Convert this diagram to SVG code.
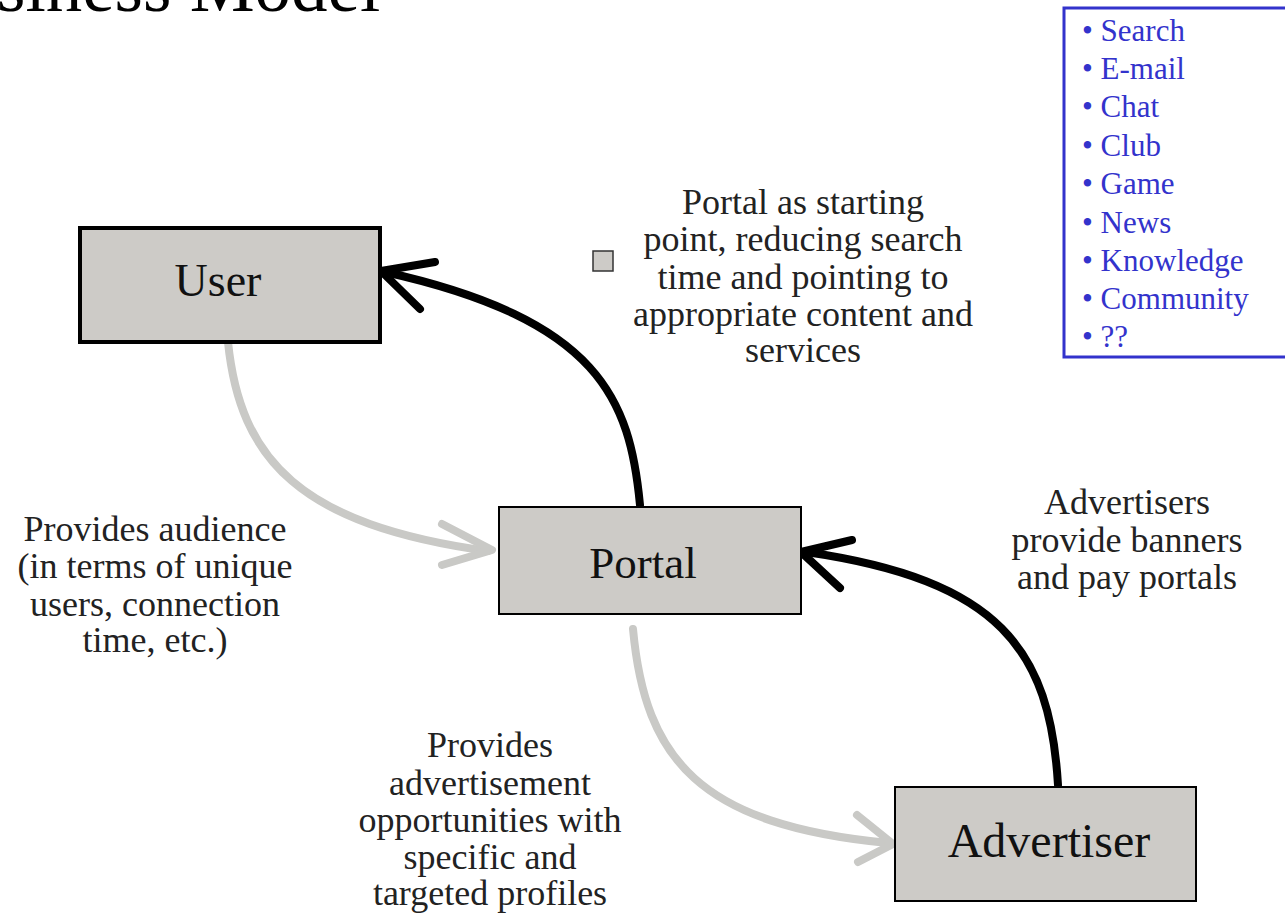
<svg xmlns="http://www.w3.org/2000/svg" width="1285" height="914" viewBox="0 0 1285 914">
<style>
.node{fill:#cdcbc7;stroke:#000}
.lbl{font-family:"Liberation Serif",serif;fill:#111;text-anchor:middle}
.note{font-family:"Liberation Serif",serif;font-size:36px;fill:#222;text-anchor:middle}
.blk{fill:none;stroke:#000;stroke-width:8;stroke-linecap:round;stroke-linejoin:round}
.gry{fill:none;stroke:#c9c9c6;stroke-width:8;stroke-linecap:round;stroke-linejoin:round}
.blue{font-family:"Liberation Serif",serif;font-size:31px;fill:#3333cc}
</style>
<rect width="1285" height="914" fill="#fff"/>
<text x="-3" y="11" font-family="Liberation Serif,serif" font-size="73" fill="#000">siness Model</text>

<g id="connectors">
  <path class="blk" d="M640 505 C630 400,600 320,385 272"/>
  <path class="blk" d="M435 262 L381 271 L420 309"/>
  <path class="blk" d="M1058 785 C1050 650,1000 580,806 552"/>
  <path class="blk" d="M852 540 L801 552 L840 588"/>
  <path class="gry" d="M228 342 C240 460,300 525,488 551"/>
  <path class="gry" d="M442 524 L492 550 L442 565"/>
  <path class="gry" d="M633 629 C645 760,700 825,888 843"/>
  <path class="gry" d="M857 815 L893 844 L858 862"/>
</g>

<g id="user">
  <rect class="node" x="80" y="228" width="300" height="114" stroke-width="4"/>
  <text class="lbl" x="218" y="296" font-size="46">User</text>
</g>
<g id="portal">
  <rect class="node" x="499" y="507" width="302" height="107" stroke-width="2"/>
  <text class="lbl" x="643" y="578" font-size="45">Portal</text>
</g>
<g id="advertiser">
  <rect class="node" x="895" y="787" width="301" height="114" stroke-width="2"/>
  <text class="lbl" x="1049" y="857" font-size="48">Advertiser</text>
</g>

<g id="note-portal">
  <rect x="593" y="251" width="20" height="20" fill="#cdcbc7" stroke="#333" stroke-width="1.5"/>
  <text class="note" x="803" y="214">Portal as starting</text>
  <text class="note" x="803" y="251">point, reducing search</text>
  <text class="note" x="803" y="289">time and pointing to</text>
  <text class="note" x="803" y="326">appropriate content and</text>
  <text class="note" x="803" y="362">services</text>
</g>
<g id="note-audience">
  <text class="note" x="155" y="541">Provides audience</text>
  <text class="note" x="155" y="578">(in terms of unique</text>
  <text class="note" x="155" y="616">users, connection</text>
  <text class="note" x="155" y="652">time, etc.)</text>
</g>
<g id="note-adopp">
  <text class="note" x="490" y="757">Provides</text>
  <text class="note" x="490" y="795">advertisement</text>
  <text class="note" x="490" y="832">opportunities with</text>
  <text class="note" x="490" y="869">specific and</text>
  <text class="note" x="490" y="905">targeted profiles</text>
</g>
<g id="note-advertisers">
  <text class="note" x="1127" y="514">Advertisers</text>
  <text class="note" x="1127" y="552">provide banners</text>
  <text class="note" x="1127" y="589">and pay portals</text>
</g>

<g id="services">
  <rect x="1064" y="8" width="230" height="349" fill="#fff" stroke="#3333cc" stroke-width="3"/>
  <text class="blue" x="1082" y="41">• Search</text>
  <text class="blue" x="1082" y="79">• E-mail</text>
  <text class="blue" x="1082" y="117">• Chat</text>
  <text class="blue" x="1082" y="156">• Club</text>
  <text class="blue" x="1082" y="194">• Game</text>
  <text class="blue" x="1082" y="233">• News</text>
  <text class="blue" x="1082" y="271">• Knowledge</text>
  <text class="blue" x="1082" y="309">• Community</text>
  <text class="blue" x="1082" y="347">• ??</text>
</g>
</svg>
